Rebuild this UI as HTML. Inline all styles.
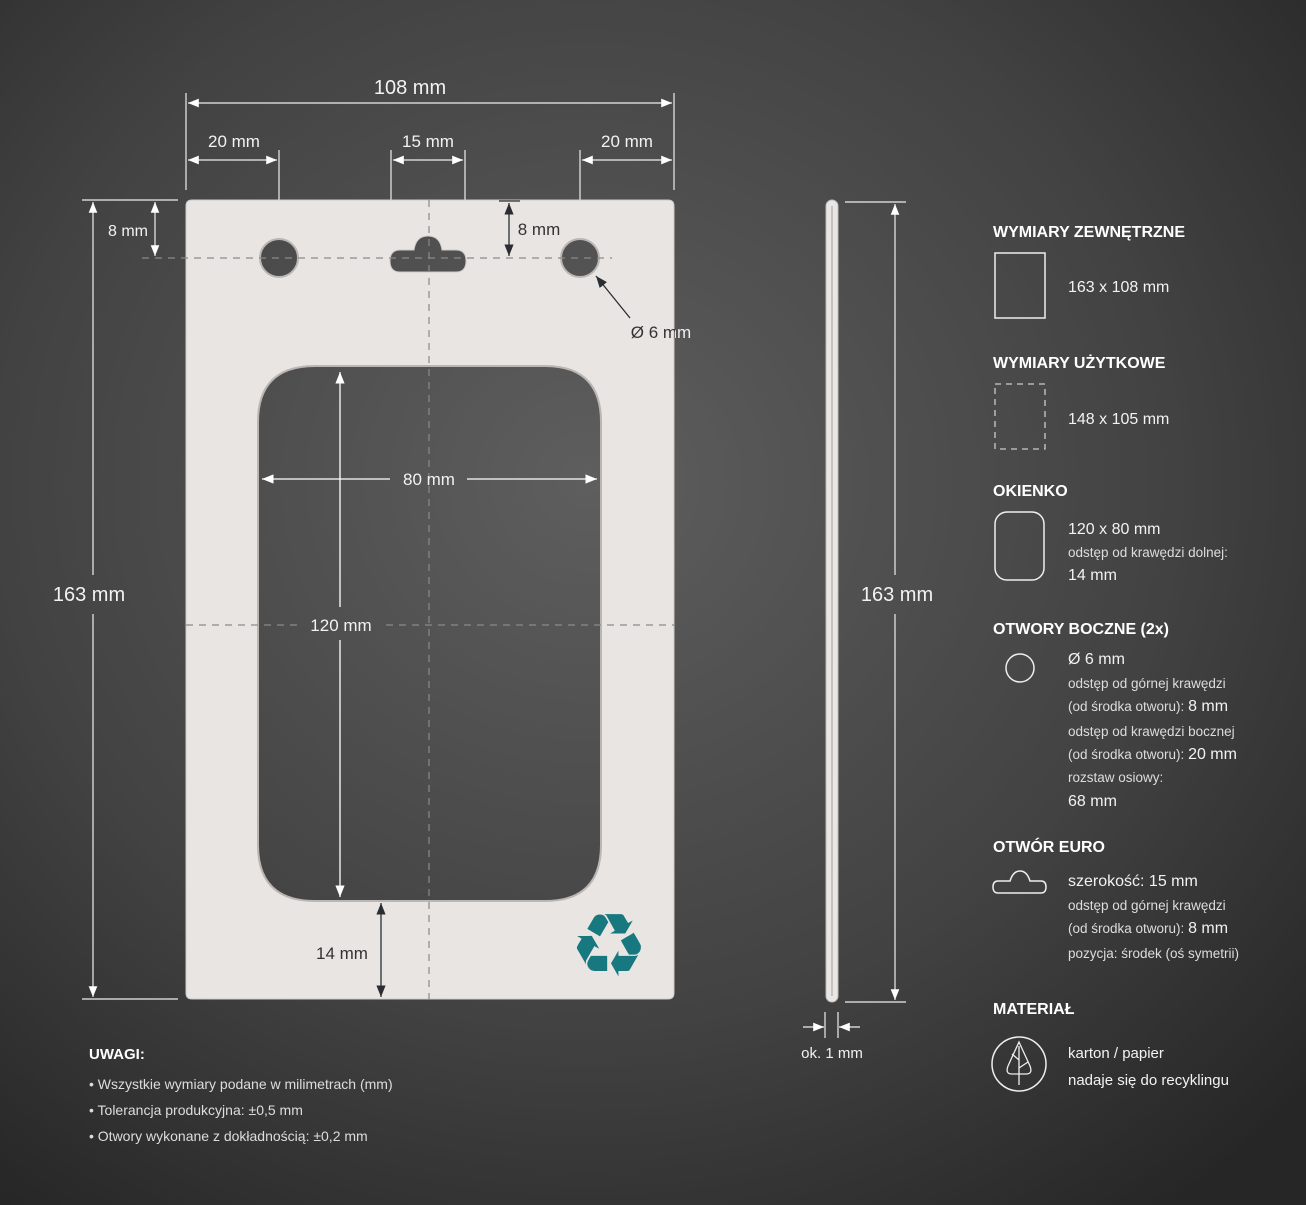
<!DOCTYPE html>
<html><head><meta charset="utf-8"><style>
html,body{margin:0;padding:0;background:#3a3a3a}
svg{display:block}
text{font-family:"Liberation Sans",sans-serif;fill:#f2f2f2}
.h{font-weight:bold;font-size:16px;fill:#fff}
.m{font-size:16px}
.s{font-size:13.5px;fill:#ddd}
.d{fill:#333;font-size:17px}
</style></head><body>
<svg width="1306" height="1205" viewBox="0 0 1306 1205" xmlns="http://www.w3.org/2000/svg">
<defs>
<radialGradient id="bg" cx="45%" cy="40%" r="75%">
<stop offset="0" stop-color="#5e5e5e"/><stop offset="0.6" stop-color="#424242"/><stop offset="1" stop-color="#262626"/>
</radialGradient>
<marker id="a" viewBox="0 0 10 10" refX="10" refY="5" markerWidth="9" markerHeight="9" orient="auto-start-reverse"><path d="M0,1 L10,5 L0,9 z" fill="#fff"/></marker>
<marker id="k" viewBox="0 0 10 10" refX="10" refY="5" markerWidth="9" markerHeight="9" orient="auto-start-reverse"><path d="M0,1 L10,5 L0,9 z" fill="#2a2e33"/></marker>
<clipPath id="out"><rect x="675" y="300" width="100" height="60"/></clipPath>
</defs>
<rect width="1306" height="1205" fill="url(#bg)"/>

<g stroke="#eee" stroke-width="1.2" fill="none">
<line x1="186" y1="93" x2="186" y2="190"/><line x1="674" y1="93" x2="674" y2="190"/>
<line x1="188" y1="103" x2="672" y2="103" marker-start="url(#a)" marker-end="url(#a)"/>
<line x1="279" y1="150" x2="279" y2="240"/><line x1="391" y1="150" x2="391" y2="252"/>
<line x1="465" y1="150" x2="465" y2="252"/><line x1="580" y1="150" x2="580" y2="240"/>
<line x1="188" y1="160" x2="277" y2="160" marker-start="url(#a)" marker-end="url(#a)"/>
<line x1="393" y1="160" x2="463" y2="160" marker-start="url(#a)" marker-end="url(#a)"/>
<line x1="582" y1="160" x2="672" y2="160" marker-start="url(#a)" marker-end="url(#a)"/>
<line x1="82" y1="200" x2="178" y2="200"/><line x1="82" y1="999" x2="178" y2="999"/>
<line x1="93" y1="202" x2="93" y2="575" marker-start="url(#a)"/>
<line x1="93" y1="614" x2="93" y2="997" marker-end="url(#a)"/>
<line x1="155" y1="202" x2="155" y2="256" marker-start="url(#a)" marker-end="url(#a)"/>
</g>
<text x="410" y="94" text-anchor="middle" style="font-size:20px">108 mm</text>
<text x="234" y="147" text-anchor="middle" style="font-size:17px">20 mm</text>
<text x="428" y="147" text-anchor="middle" style="font-size:17px">15 mm</text>
<text x="627" y="147" text-anchor="middle" style="font-size:17px">20 mm</text>
<text x="89" y="601" text-anchor="middle" style="font-size:20px">163 mm</text>
<text x="128" y="236" text-anchor="middle" style="font-size:16px">8 mm</text>

<path fill-rule="evenodd" fill="#e9e5e3" stroke="#cfcac7" stroke-width="1" d="
M192,200 H668 Q674,200 674,206 V993 Q674,999 668,999 H192 Q186,999 186,993 V206 Q186,200 192,200 Z
M315,366 H545 Q601,366 601,422 V845 Q601,901 545,901 H315 Q258,901 258,845 V422 Q258,366 315,366 Z
M260,258 a19,19 0 1,0 38,0 a19,19 0 1,0 -38,0 Z
M561,258 a19,19 0 1,0 38,0 a19,19 0 1,0 -38,0 Z
M400,250 H414 Q416,236 428,236 Q440,236 442,250 H456 Q466,250 466,261 Q466,272 456,272 H400 Q390,272 390,261 Q390,250 400,250 Z"/>
<g fill="none" stroke="#bcb6b2" stroke-width="2">
<path d="M315,366 H545 Q601,366 601,422 V845 Q601,901 545,901 H315 Q258,901 258,845 V422 Q258,366 315,366 Z"/>
<circle cx="279" cy="258" r="19"/><circle cx="580" cy="258" r="19"/>
</g>
<g stroke="#8a8a8a" stroke-width="1.2" stroke-dasharray="7,6" fill="none">
<line x1="142" y1="258" x2="612" y2="258"/>
<line x1="429" y1="200" x2="429" y2="999"/>
<line x1="186" y1="625" x2="297" y2="625"/><line x1="386" y1="625" x2="674" y2="625"/>
</g>
<g stroke="#2a2e33" stroke-width="1.3" fill="none">
<line x1="499" y1="201" x2="520" y2="201"/>
<line x1="509" y1="203" x2="509" y2="256" marker-start="url(#k)" marker-end="url(#k)"/>
<line x1="630" y1="318" x2="596" y2="276" marker-end="url(#k)"/>
<line x1="381" y1="903" x2="381" y2="997" marker-start="url(#k)" marker-end="url(#k)"/>
</g>
<g stroke="#fff" stroke-width="1.3" fill="none">
<line x1="262" y1="479" x2="390" y2="479" marker-start="url(#a)"/>
<line x1="467" y1="479" x2="597" y2="479" marker-end="url(#a)"/>
<line x1="340" y1="372" x2="340" y2="607" marker-start="url(#a)"/>
<line x1="340" y1="640" x2="340" y2="897" marker-end="url(#a)"/>
</g>
<text x="539" y="235" text-anchor="middle" class="d">8 mm</text>
<text x="661" y="338" text-anchor="middle" class="d">Ø 6 mm</text>
<text x="661" y="338" text-anchor="middle" style="font-size:17px" clip-path="url(#out)">Ø 6 mm</text>
<text x="429" y="485" text-anchor="middle" style="font-size:17px">80 mm</text>
<text x="341" y="631" text-anchor="middle" style="font-size:17px">120 mm</text>
<text x="342" y="959" text-anchor="middle" class="d">14 mm</text>
<text x="609" y="976" text-anchor="middle" style="font-family:'DejaVu Sans',sans-serif;font-size:88px;fill:#17797f">♻</text>

<rect x="826" y="200" width="12" height="802" rx="6" fill="#eae6e4" stroke="#bbb" stroke-width="1"/>
<line x1="832" y1="206" x2="832" y2="996" stroke="#c8c2bf" stroke-width="2"/>
<g stroke="#eee" stroke-width="1.2" fill="none">
<line x1="845" y1="202" x2="906" y2="202"/><line x1="845" y1="1002" x2="906" y2="1002"/>
<line x1="895" y1="204" x2="895" y2="575" marker-start="url(#a)"/>
<line x1="895" y1="614" x2="895" y2="1000" marker-end="url(#a)"/>
<line x1="825" y1="1012" x2="825" y2="1038"/><line x1="838" y1="1012" x2="838" y2="1038"/>
<line x1="803" y1="1027" x2="824" y2="1027" marker-end="url(#a)"/>
<line x1="860" y1="1027" x2="839" y2="1027" marker-end="url(#a)"/>
</g>
<text x="897" y="601" text-anchor="middle" style="font-size:20px">163 mm</text>
<text x="832" y="1058" text-anchor="middle" style="font-size:15px">ok. 1 mm</text>

<text x="993" y="237" class="h">WYMIARY ZEWNĘTRZNE</text>
<rect x="995" y="253" width="50" height="65" fill="none" stroke="#eee" stroke-width="1.5"/>
<text x="1068" y="292" class="m">163 x 108 mm</text>
<text x="993" y="368" class="h">WYMIARY UŻYTKOWE</text>
<rect x="995" y="384" width="50" height="65" fill="none" stroke="#ccc" stroke-width="1.3" stroke-dasharray="6,5"/>
<text x="1068" y="424" class="m">148 x 105 mm</text>
<text x="993" y="496" class="h">OKIENKO</text>
<rect x="995" y="512" width="49" height="68" rx="12" fill="none" stroke="#eee" stroke-width="1.5"/>
<text x="1068" y="534" class="m">120 x 80 mm</text>
<text x="1068" y="557" class="s">odstęp od krawędzi dolnej:</text>
<text x="1068" y="580" class="m">14 mm</text>
<text x="993" y="634" class="h">OTWORY BOCZNE (2x)</text>
<circle cx="1020" cy="668" r="14" fill="none" stroke="#eee" stroke-width="1.5"/>
<text x="1068" y="664" class="m">Ø 6 mm</text>
<text x="1068" y="688" class="s">odstęp od górnej krawędzi</text>
<text x="1068" y="711" class="s">(od środka otworu):  <tspan style="font-size:16px;fill:#f2f2f2">8 mm</tspan></text>
<text x="1068" y="736" class="s">odstęp od krawędzi bocznej</text>
<text x="1068" y="759" class="s">(od środka otworu):  <tspan style="font-size:16px;fill:#f2f2f2">20 mm</tspan></text>
<text x="1068" y="782" class="s">rozstaw osiowy:</text>
<text x="1068" y="806" class="m">68 mm</text>
<text x="993" y="852" class="h">OTWÓR EURO</text>
<path d="M998,881 H1010 Q1013,871 1020,871 Q1027,871 1030,881 H1041 Q1046,881 1046,887 Q1046,893 1041,893 H998 Q993,893 993,887 Q993,881 998,881 Z" fill="none" stroke="#eee" stroke-width="1.5"/>
<text x="1068" y="886" class="m">szerokość: 15 mm</text>
<text x="1068" y="910" class="s">odstęp od górnej krawędzi</text>
<text x="1068" y="933" class="s">(od środka otworu): <tspan style="font-size:16px;fill:#f2f2f2">8 mm</tspan></text>
<text x="1068" y="958" class="s">pozycja: środek (oś symetrii)</text>
<text x="993" y="1014" class="h">MATERIAŁ</text>
<circle cx="1019" cy="1064" r="27" fill="none" stroke="#eee" stroke-width="1.5"/>
<path d="M1019,1042 L1008,1066 Q1005,1074 1012,1074 H1026 Q1033,1074 1030,1066 Z M1019,1046 V1085 M1019,1060 L1012,1054 M1019,1068 L1028,1062" fill="none" stroke="#eee" stroke-width="1.3"/>
<text x="1068" y="1058" class="m" style="font-size:15px">karton / papier</text>
<text x="1068" y="1085" class="m" style="font-size:15px">nadaje się do recyklingu</text>

<text x="89" y="1059" class="h" style="font-size:15px">UWAGI:</text>
<text x="89" y="1089" class="s" style="font-size:14px">•  Wszystkie wymiary podane w milimetrach (mm)</text>
<text x="89" y="1115" class="s" style="font-size:14px">•  Tolerancja produkcyjna: ±0,5 mm</text>
<text x="89" y="1141" class="s" style="font-size:14px">•  Otwory wykonane z dokładnością: ±0,2 mm</text>
</svg>
</body></html>
